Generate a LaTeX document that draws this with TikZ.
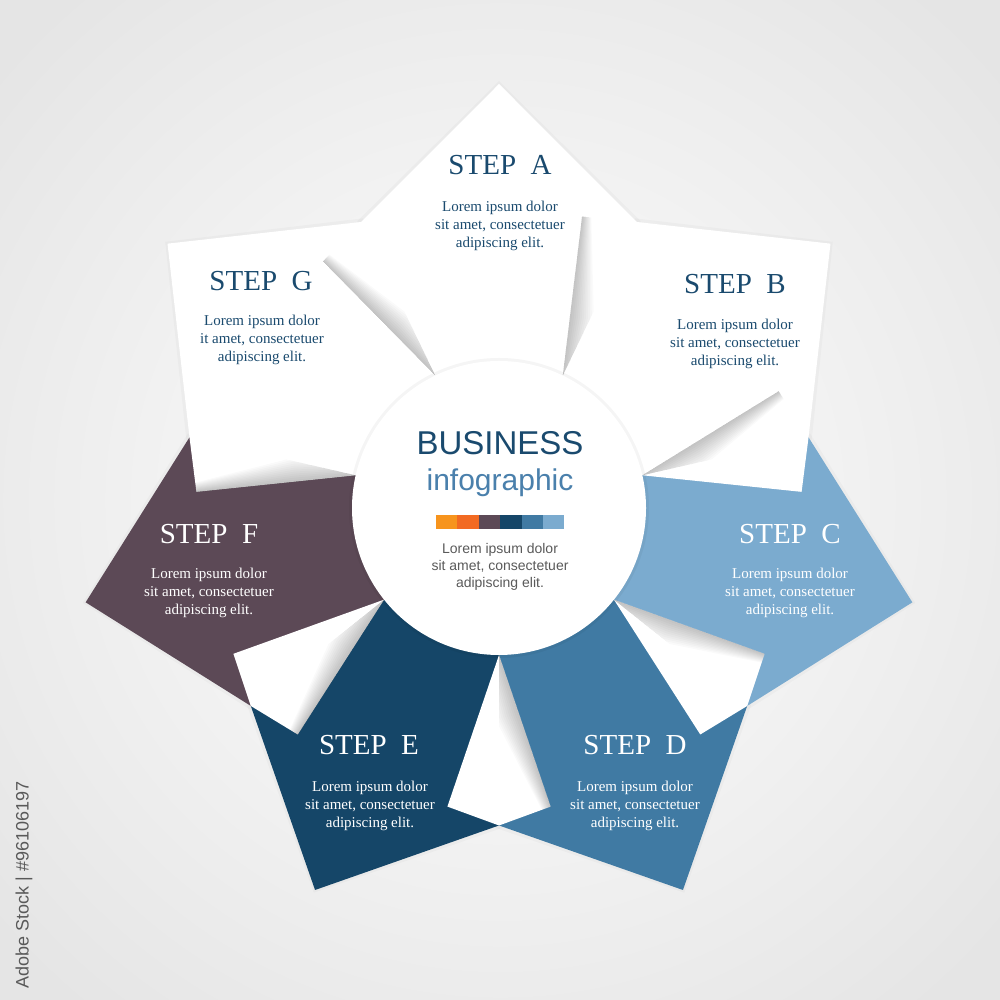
\documentclass[tikz,border=0pt]{standalone}
\usepackage{fontspec}
\setmainfont{Liberation Serif}
\setsansfont{Liberation Sans}
\definecolor{wC}{HTML}{7BABCF}
\definecolor{wD}{HTML}{407AA3}
\definecolor{wE}{HTML}{154668}
\definecolor{wF}{HTML}{5C4956}
\definecolor{orA}{HTML}{F7941D}
\definecolor{orB}{HTML}{F26A22}
\definecolor{navy}{HTML}{1A4A6E}
\definecolor{infoblue}{HTML}{4A80AC}
\definecolor{bodygray}{HTML}{5A5A5A}
\begin{document}
\begin{tikzpicture}[x=1pt,y=1pt,
  steptitle/.style={font=\fontsize{29}{30}\selectfont, anchor=base, inner sep=0pt},
  stepbody/.style={font=\fontsize{15}{18.3}\selectfont, align=center, inner sep=0pt},
  darktxt/.style={text=navy},
  lighttxt/.style={text=white},
  barseg/.style={minimum width=21.4pt, minimum height=14pt, inner sep=0pt, outer sep=0pt, anchor=west}]
\useasboundingbox (0,0) rectangle (1000,1000);
\shade[inner color=white, outer color=black!10] (-150,-150) rectangle (1150,1150);
\coordinate (O) at (499,492);
% soft shadow of the wedges
\foreach \ang in {90,38.571,-12.857,-64.286,-115.714,-167.143,141.429}{
  \fill[black, opacity=0.025, shift={(O)}, rotate=\ang]
    (0,0) -- (-26.3:320) -- (427,0) -- (26.3:320) -- cycle;
}
% wedges
\foreach \ang/\col in {90/white, 38.571/white, -12.857/wC, -64.286/wD, -115.714/wE, -167.143/wF, 141.429/white}{
  \fill[\col, shift={(O)}, rotate=\ang]
    (0,0) -- (-25.714:317.5) -- (424,0) -- (25.714:317.5) -- cycle;
}
% curled corners
\foreach \b in {115.714, 64.286, 12.857, -38.571, -90, -141.429, 167.143}{
  \begin{scope}[shift={(O)}, rotate=\b]
    \fill[white] (147,0) -- (298.6,51.6) -- (317.5,0) -- (298.6,-51.6) -- cycle;
    \begin{scope}
      \clip (147,0) -- (298.6,51.6) -- (317.5,0) -- cycle;
      \begin{scope}[shift={(147,0)}, rotate=18.8]
        \foreach \i in {1,...,12}{
          \fill[black, opacity=0.021] (-2,0.5) -- (175,0.5) -- (175,-0.6*\i) -- (60,-2*\i) -- (-2,-1.4*\i) -- cycle;
        }
      \end{scope}
    \end{scope}
  \end{scope}
}
% centre disc
\fill[black, opacity=0.04] (O) circle (150);
\fill[white] (O) circle (147);
% step texts
\node[steptitle, darktxt] (tA) at (500,825) {STEP\ \ A};
\node[stepbody, darktxt] (bA) at (500,774) {Lorem ipsum dolor\\sit amet, consectetuer\\adipiscing elit.};
\node[steptitle, darktxt] (tB) at (735,706.5) {STEP\ \ B};
\node[stepbody, darktxt] (bB) at (735,656) {Lorem ipsum dolor\\sit amet, consectetuer\\adipiscing elit.};
\node[steptitle, lighttxt] (tC) at (790,456.5) {STEP\ \ C};
\node[stepbody, lighttxt] (bC) at (790,407) {Lorem ipsum dolor\\sit amet, consectetuer\\adipiscing elit.};
\node[steptitle, lighttxt] (tD) at (635,245) {STEP\ \ D};
\node[stepbody, lighttxt] (bD) at (635,194) {Lorem ipsum dolor\\sit amet, consectetuer\\adipiscing elit.};
\node[steptitle, lighttxt] (tE) at (369,245) {STEP\ \ E};
\node[stepbody, lighttxt] (bE) at (370,194) {Lorem ipsum dolor\\sit amet, consectetuer\\adipiscing elit.};
\node[steptitle, lighttxt] (tF) at (209,456.5) {STEP\ \ F};
\node[stepbody, lighttxt] (bF) at (209,407) {Lorem ipsum dolor\\sit amet, consectetuer\\adipiscing elit.};
\node[steptitle, darktxt] (tG) at (261,709.5) {STEP\ \ G};
\node[stepbody, darktxt] (bG) at (262,660) {Lorem ipsum dolor\\it amet, consectetuer\\adipiscing elit.};
% centre texts
\node[font=\sffamily\fontsize{33}{34}\selectfont, text=navy, anchor=base, inner sep=0pt] (bus) at (500,545) {BUSINESS};
\node[font=\sffamily\fontsize{30}{31}\selectfont, text=infoblue, anchor=base, inner sep=0pt] (info) at (500,509.5) {infographic};
\node[barseg, fill=orA] (s1) at (436,478) {};
\node[barseg, fill=orB] (s2) at (s1.east) {};
\node[barseg, fill=wF] (s3) at (s2.east) {};
\node[barseg, fill=wE] (s4) at (s3.east) {};
\node[barseg, fill=wD] (s5) at (s4.east) {};
\node[barseg, fill=wC] (s6) at (s5.east) {};
\node[font=\sffamily\fontsize{14}{16.7}\selectfont, text=bodygray, align=center, inner sep=0pt] (cbody) at (500,433) {Lorem ipsum dolor\\sit amet, consectetuer\\adipiscing elit.};
% side label
\node[font=\sffamily\fontsize{18}{19}\selectfont, text=black!65, rotate=90, inner sep=0pt] (lbl) at (24,115) {Adobe Stock | \#96106197};
\end{tikzpicture}
\end{document}
